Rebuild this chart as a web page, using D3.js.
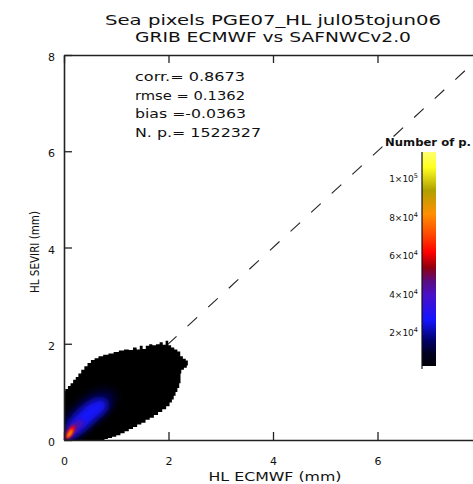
<!DOCTYPE html>
<html>
<head>
<meta charset="utf-8">
<script src="https://cdn.jsdelivr.net/npm/d3@7"></script>
<style>
  html, body { margin: 0; padding: 0; background: #fff; }
  svg { display: block; }
  text { font-family: "DejaVu Sans", sans-serif; fill: #111; }
</style>
</head>
<body>
<svg id="chart" width="473" height="484"></svg>
<script>
// ---- data ----
const titleLines = ["Sea pixels PGE07_HL jul05tojun06", "GRIB ECMWF vs SAFNWCv2.0"];
const statLines = ["corr.= 0.8673", "rmse = 0.1362", "bias =-0.0363", "N. p.= 1522327"];
const xTicks = [0, 2, 4, 6, 8];
const xTickLabels = ["0", "2", "4", "6", ""];
const yTicks = [0, 2, 4, 6, 8];
const xLabel = "HL ECMWF (mm)";
const yLabel = "HL SEVIRI (mm)";
const cbTitle = "Number of p.";

// outline of bins holding at least one pixel pair (ECMWF mm, SEVIRI mm)
const coverEcmwf  = [0, 0, 0.05, 0.1, 0.15, 0.2, 0.25, 0.3, 0.36, 0.42, 0.48, 0.55, 0.62, 0.7, 0.8, 0.9, 1.0, 1.1, 1.2, 1.28, 1.36, 1.42, 1.48, 1.53, 1.6, 1.66, 1.72, 1.8, 1.86, 1.92, 1.97, 2.02, 2.08, 2.14, 2.2, 2.25, 2.3, 2.36, 2.38, 2.32, 2.27, 2.22, 2.24, 2.22, 2.19, 2.15, 2.12, 2.08, 2.05, 1.99, 1.92, 1.84, 1.76, 1.68, 1.6, 1.52, 1.44, 1.36, 1.28, 1.2, 1.12, 1.04, 0.96, 0.88, 0.8, 0.75];
const coverSeviri = [0, 1.02, 1.06, 1.12, 1.18, 1.25, 1.31, 1.38, 1.46, 1.53, 1.6, 1.66, 1.7, 1.74, 1.77, 1.8, 1.83, 1.86, 1.88, 1.87, 1.92, 1.88, 1.96, 1.89, 1.96, 1.99, 1.97, 1.99, 2.03, 1.98, 2.06, 1.97, 1.92, 1.88, 1.84, 1.74, 1.69, 1.65, 1.55, 1.5, 1.46, 1.38, 1.28, 1.18, 1.08, 1.0, 0.92, 0.84, 0.78, 0.7, 0.64, 0.58, 0.52, 0.46, 0.42, 0.36, 0.32, 0.27, 0.23, 0.18, 0.14, 0.1, 0.07, 0.04, 0.02, 0];

// density contours: count level and the region above it
const levelCounts = [12000, 28000, 44000, 62000, 82000];
const levelEcmwf = [
  [0, 0, 0.25, 0.55, 0.85, 1.0, 0.85, 0.55, 0.3, 0.15],
  [0.04, 0.08, 0.3, 0.55, 0.78, 0.82, 0.6, 0.38, 0.15],
  [0.04, 0.06, 0.2, 0.33, 0.37, 0.26, 0.13],
  [0.03, 0.05, 0.13, 0.2, 0.2, 0.12],
  [0.06, 0.08, 0.14, 0.17, 0.13]
];
const levelSeviri = [
  [0, 0.45, 0.75, 1.0, 1.05, 0.9, 0.6, 0.35, 0.12, 0],
  [0.04, 0.35, 0.62, 0.82, 0.85, 0.65, 0.42, 0.2, 0.05],
  [0.03, 0.2, 0.36, 0.42, 0.33, 0.2, 0.06],
  [0.02, 0.14, 0.27, 0.3, 0.2, 0.07],
  [0.05, 0.14, 0.22, 0.2, 0.1]
];

// colour table of the count bar
const cbStopValues = [3000, 9000, 16000, 27000, 40000, 47000, 54000, 62000, 70000, 82000, 94000, 106000, 114000];
const cbStopColors = ["#000008", "#00001e", "#000066", "#1414ff", "#4a10c8", "#5a0c80", "#900010", "#ff0000", "#ff4000", "#ff9000", "#b0a000", "#ffff20", "#ffff70"];
const cbTickValues = [20000, 40000, 60000, 80000, 100000];
const cbTickMant = ["2", "4", "6", "8", "1"];
const cbTickExp = ["4", "4", "4", "4", "5"];
const cbRange = [3000, 114000];

// ---- drawing ----
const svg = d3.select("#chart");
const x = d3.scaleLinear().domain([0, 8]).range([64, 482]);
const y = d3.scaleLinear().domain([0, 8]).range([440, 55]);
const color = d3.scaleLinear().domain(cbStopValues).range(cbStopColors).clamp(true);

const defs = svg.append("defs");
defs.append("clipPath").attr("id", "plotClip")
  .append("rect").attr("x", x(0)).attr("y", y(8))
  .attr("width", x(8) - x(0)).attr("height", y(0) - y(8));

// 1:1 reference line, beneath the density cloud
svg.append("line")
  .attr("x1", x(0)).attr("y1", y(0)).attr("x2", x(8)).attr("y2", y(8))
  .attr("stroke", "#222").attr("stroke-width", 1.1)
  .attr("stroke-dasharray", "13,15");

const cover = coverEcmwf.map((v, i) => [v, coverSeviri[i]]);
const stepLine = d3.line().x(d => x(d[0])).y(d => y(d[1])).curve(d3.curveStep);
const coverPath = stepLine(cover) + "Z";

defs.append("clipPath").attr("id", "coverClip")
  .append("path").attr("d", coverPath);

const plot = svg.append("g").attr("clip-path", "url(#plotClip)");

// every populated bin is at least black
plot.append("path").attr("d", coverPath).attr("fill", "#000");

// density levels, smoothed (inner levels are sharper)
const dens = plot.append("g").attr("clip-path", "url(#coverClip)");
levelCounts.forEach((c, i) => {
  const sd = Math.max(1.1, 4.4 - i * 0.9);
  defs.append("filter").attr("id", "soft" + i)
    .attr("x", "-60%").attr("y", "-60%").attr("width", "220%").attr("height", "220%")
    .append("feGaussianBlur").attr("stdDeviation", sd);
  const pts = levelEcmwf[i].map((v, j) => [v, levelSeviri[i][j]]);
  dens.append("path")
    .attr("d", d3.line().x(d => x(d[0])).y(d => y(d[1])).curve(d3.curveCardinalClosed)(pts))
    .attr("fill", color(c))
    .attr("filter", `url(#soft${i})`);
});

// axes with inward ticks
function styleAxis(g) {
  g.select(".domain").attr("stroke", "#222").attr("stroke-width", 1.6);
  g.selectAll(".tick line").attr("stroke", "#222").attr("stroke-width", 1.3);
  g.selectAll(".tick text").attr("fill", "#111").attr("font-family", "DejaVu Sans, sans-serif");
}
svg.append("g").attr("transform", `translate(0,${y(0)})`)
  .call(d3.axisBottom(x).tickValues(xTicks).tickSize(-8).tickSizeOuter(0).tickPadding(17)
    .tickFormat((d, i) => xTickLabels[i]))
  .call(styleAxis).call(g => g.selectAll(".tick text").attr("font-size", 11));
svg.append("g").attr("transform", `translate(${x(0)},0)`)
  .call(d3.axisLeft(y).tickValues(yTicks).tickSize(-8).tickSizeOuter(0).tickPadding(9).tickFormat(d3.format("d")))
  .call(styleAxis).call(g => g.selectAll(".tick text").attr("font-size", 11).attr("dy", "0.5em"));
svg.append("g").attr("transform", `translate(0,${y(8)})`)
  .call(d3.axisTop(x).tickValues(xTicks).tickSize(-8).tickSizeOuter(0).tickFormat(""))
  .call(styleAxis);
svg.append("g").attr("transform", `translate(${x(8)},0)`)
  .call(d3.axisRight(y).tickValues(yTicks).tickSize(-8).tickSizeOuter(0).tickFormat(""))
  .call(styleAxis);

// titles
titleLines.forEach((t, i) => {
  svg.append("text").attr("x", 273).attr("y", 25 + i * 17)
    .attr("text-anchor", "middle").attr("font-size", 14)
    .attr("textLength", i === 0 ? 336 : 276).attr("lengthAdjust", "spacingAndGlyphs")
    .text(t);
});
svg.append("text").attr("x", 275).attr("y", 481).attr("text-anchor", "middle")
  .attr("font-size", 13).attr("textLength", 133).attr("lengthAdjust", "spacingAndGlyphs")
  .text(xLabel);
svg.append("text").attr("transform", "translate(39,252) rotate(-90)")
  .attr("text-anchor", "middle").attr("font-size", 12)
  .attr("textLength", 82).attr("lengthAdjust", "spacingAndGlyphs")
  .text(yLabel);

// statistics
const statWidths = [110, 110, 111, 126];
statLines.forEach((t, i) => {
  svg.append("text").attr("x", 135).attr("y", 81 + i * 18.5)
    .attr("font-size", 12.5).attr("textLength", statWidths[i]).attr("lengthAdjust", "spacingAndGlyphs")
    .text(t);
});

// colour bar
const cbX = 422, cbW = 14;
const cy = d3.scaleLinear().domain(cbRange).range([366, 152]);
const grad = defs.append("linearGradient").attr("id", "cbGrad")
  .attr("x1", 0).attr("y1", 1).attr("x2", 0).attr("y2", 0);
cbStopValues.forEach((v, i) => {
  grad.append("stop")
    .attr("offset", (v - cbRange[0]) / (cbRange[1] - cbRange[0]))
    .attr("stop-color", cbStopColors[i]);
});
svg.append("rect").attr("x", cbX).attr("y", cy(cbRange[1]))
  .attr("width", cbW).attr("height", cy(cbRange[0]) - cy(cbRange[1]))
  .attr("fill", "url(#cbGrad)");
svg.append("line").attr("x1", cbX).attr("x2", cbX)
  .attr("y1", cy(cbRange[1])).attr("y2", cy(cbRange[0]) + 3)
  .attr("stroke", "#111").attr("stroke-width", 1.2);
const cbLab = svg.append("g");
cbTickValues.forEach((v, i) => {
  const t = cbLab.append("text").attr("x", 418).attr("y", cy(v) + 3)
    .attr("text-anchor", "end").attr("font-size", 9);
  t.append("tspan").text(cbTickMant[i] + "\u00d710");
  t.append("tspan").attr("dy", -4).attr("font-size", 6.5).text(cbTickExp[i]);
});
svg.append("text").attr("x", 385).attr("y", 146)
  .attr("font-size", 11).attr("font-weight", "bold")
  .attr("textLength", 86).attr("lengthAdjust", "spacingAndGlyphs")
  .text(cbTitle);
</script>
</body>
</html>
